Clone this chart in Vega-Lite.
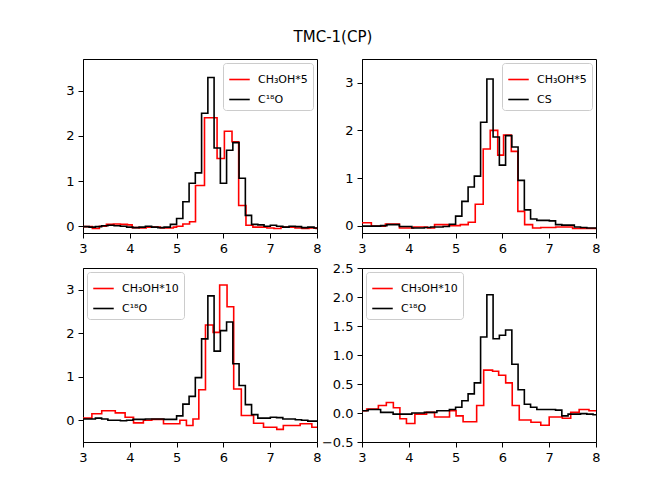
{
  "$schema": "https://vega.github.io/schema/vega-lite/v6.json",
  "background": "white",
  "padding": {"left": 65, "top": 29, "right": 5, "bottom": 5},
  "title": {"text": "TMC-1(CP)", "fontSize": 15, "fontWeight": "normal", "font": "DejaVu Sans", "color": "black", "anchor": "middle", "offset": 14},
  "config": {
    "font": "DejaVu Sans",
    "view": {"stroke": "black", "strokeWidth": 1},
    "axis": {"grid": false, "domainColor": "black", "tickColor": "black", "labelColor": "black", "labelFontSize": 13, "labelFont": "DejaVu Sans", "tickSize": 5, "labelPadding": 4, "labelFlush": false, "labelOverlap": false, "title": null},
    "legend": {"offset": 4, "padding": 5, "strokeColor": "#cccccc", "fillColor": "rgba(255,255,255,0.8)", "cornerRadius": 3, "labelFontSize": 11, "labelFont": "DejaVu Sans", "labelColor": "black", "symbolType": "stroke", "symbolSize": 420, "symbolStrokeWidth": 1.6, "rowPadding": 3, "labelOffset": 7}
  },
  "datasets": {
    "p1": [
      {"v": 2.90, "T": -0.01, "s": "CH₃OH*5"}, {"v": 3.20, "T": -0.05, "s": "CH₃OH*5"}, {"v": 3.35, "T": 0.0, "s": "CH₃OH*5"}, {"v": 3.50, "T": 0.04, "s": "CH₃OH*5"}, {"v": 3.65, "T": 0.05, "s": "CH₃OH*5"}, {"v": 3.80, "T": 0.04, "s": "CH₃OH*5"}, {"v": 3.95, "T": 0.03, "s": "CH₃OH*5"}, {"v": 4.05, "T": -0.03, "s": "CH₃OH*5"}, {"v": 4.20, "T": -0.04, "s": "CH₃OH*5"}, {"v": 4.35, "T": -0.02, "s": "CH₃OH*5"}, {"v": 4.50, "T": -0.02, "s": "CH₃OH*5"}, {"v": 4.65, "T": -0.04, "s": "CH₃OH*5"}, {"v": 4.80, "T": -0.04, "s": "CH₃OH*5"}, {"v": 4.93, "T": -0.02, "s": "CH₃OH*5"}, {"v": 5.00, "T": 0.0, "s": "CH₃OH*5"}, {"v": 5.134, "T": 0.05, "s": "CH₃OH*5"}, {"v": 5.277, "T": 0.10, "s": "CH₃OH*5"}, {"v": 5.404, "T": 0.90, "s": "CH₃OH*5"}, {"v": 5.596, "T": 2.40, "s": "CH₃OH*5"}, {"v": 5.865, "T": 1.50, "s": "CH₃OH*5"}, {"v": 6.021, "T": 2.10, "s": "CH₃OH*5"}, {"v": 6.184, "T": 1.87, "s": "CH₃OH*5"}, {"v": 6.326, "T": 0.46, "s": "CH₃OH*5"}, {"v": 6.482, "T": 0.02, "s": "CH₃OH*5"}, {"v": 6.63, "T": -0.02, "s": "CH₃OH*5"}, {"v": 6.78, "T": -0.02, "s": "CH₃OH*5"}, {"v": 6.93, "T": -0.04, "s": "CH₃OH*5"}, {"v": 7.08, "T": -0.05, "s": "CH₃OH*5"}, {"v": 7.23, "T": -0.02, "s": "CH₃OH*5"}, {"v": 7.38, "T": -0.02, "s": "CH₃OH*5"}, {"v": 7.53, "T": -0.04, "s": "CH₃OH*5"}, {"v": 7.68, "T": -0.05, "s": "CH₃OH*5"}, {"v": 7.83, "T": -0.04, "s": "CH₃OH*5"}, {"v": 7.98, "T": -0.05, "s": "CH₃OH*5"}, {"v": 8.10, "T": -0.05, "s": "CH₃OH*5"},
      {"v": 2.864, "T": 0.0, "s": "C¹⁸O"}, {"v": 2.998, "T": -0.01, "s": "C¹⁸O"}, {"v": 3.131, "T": -0.02, "s": "C¹⁸O"}, {"v": 3.265, "T": -0.01, "s": "C¹⁸O"}, {"v": 3.398, "T": 0.01, "s": "C¹⁸O"}, {"v": 3.532, "T": 0.02, "s": "C¹⁸O"}, {"v": 3.665, "T": 0.01, "s": "C¹⁸O"}, {"v": 3.799, "T": 0.0, "s": "C¹⁸O"}, {"v": 3.932, "T": -0.02, "s": "C¹⁸O"}, {"v": 4.066, "T": -0.03, "s": "C¹⁸O"}, {"v": 4.199, "T": -0.02, "s": "C¹⁸O"}, {"v": 4.333, "T": 0.0, "s": "C¹⁸O"}, {"v": 4.466, "T": -0.02, "s": "C¹⁸O"}, {"v": 4.6, "T": -0.03, "s": "C¹⁸O"}, {"v": 4.733, "T": -0.02, "s": "C¹⁸O"}, {"v": 4.867, "T": 0.04, "s": "C¹⁸O"}, {"v": 5.0, "T": 0.17, "s": "C¹⁸O"}, {"v": 5.134, "T": 0.54, "s": "C¹⁸O"}, {"v": 5.267, "T": 0.95, "s": "C¹⁸O"}, {"v": 5.4, "T": 1.18, "s": "C¹⁸O"}, {"v": 5.534, "T": 2.5, "s": "C¹⁸O"}, {"v": 5.668, "T": 3.29, "s": "C¹⁸O"}, {"v": 5.801, "T": 1.73, "s": "C¹⁸O"}, {"v": 5.935, "T": 0.95, "s": "C¹⁸O"}, {"v": 6.068, "T": 1.68, "s": "C¹⁸O"}, {"v": 6.202, "T": 1.85, "s": "C¹⁸O"}, {"v": 6.335, "T": 1.06, "s": "C¹⁸O"}, {"v": 6.469, "T": 0.24, "s": "C¹⁸O"}, {"v": 6.602, "T": 0.04, "s": "C¹⁸O"}, {"v": 6.736, "T": 0.03, "s": "C¹⁸O"}, {"v": 6.869, "T": 0.0, "s": "C¹⁸O"}, {"v": 7.003, "T": 0.02, "s": "C¹⁸O"}, {"v": 7.136, "T": 0.0, "s": "C¹⁸O"}, {"v": 7.27, "T": -0.02, "s": "C¹⁸O"}, {"v": 7.403, "T": 0.0, "s": "C¹⁸O"}, {"v": 7.537, "T": -0.01, "s": "C¹⁸O"}, {"v": 7.67, "T": -0.03, "s": "C¹⁸O"}, {"v": 7.804, "T": -0.02, "s": "C¹⁸O"}, {"v": 7.937, "T": -0.04, "s": "C¹⁸O"}, {"v": 8.071, "T": -0.03, "s": "C¹⁸O"}
    ],
    "p2": [
      {"v": 2.90, "T": 0.06, "s": "CH₃OH*5"}, {"v": 3.20, "T": -0.01, "s": "CH₃OH*5"}, {"v": 3.50, "T": 0.035, "s": "CH₃OH*5"}, {"v": 3.80, "T": -0.05, "s": "CH₃OH*5"}, {"v": 4.10, "T": -0.03, "s": "CH₃OH*5"}, {"v": 4.40, "T": -0.05, "s": "CH₃OH*5"}, {"v": 4.55, "T": 0.02, "s": "CH₃OH*5"}, {"v": 4.85, "T": 0.0, "s": "CH₃OH*5"}, {"v": 5.10, "T": 0.02, "s": "CH₃OH*5"}, {"v": 5.27, "T": 0.07, "s": "CH₃OH*5"}, {"v": 5.42, "T": 0.45, "s": "CH₃OH*5"}, {"v": 5.59, "T": 1.61, "s": "CH₃OH*5"}, {"v": 5.74, "T": 2.0, "s": "CH₃OH*5"}, {"v": 5.90, "T": 1.48, "s": "CH₃OH*5"}, {"v": 6.025, "T": 1.9, "s": "CH₃OH*5"}, {"v": 6.19, "T": 1.56, "s": "CH₃OH*5"}, {"v": 6.33, "T": 0.3, "s": "CH₃OH*5"}, {"v": 6.475, "T": 0.02, "s": "CH₃OH*5"}, {"v": 6.645, "T": -0.05, "s": "CH₃OH*5"}, {"v": 6.82, "T": -0.04, "s": "CH₃OH*5"}, {"v": 7.14, "T": -0.03, "s": "CH₃OH*5"}, {"v": 7.50, "T": -0.06, "s": "CH₃OH*5"}, {"v": 8.10, "T": -0.06, "s": "CH₃OH*5"},
      {"v": 2.864, "T": -0.01, "s": "CS"}, {"v": 2.998, "T": -0.01, "s": "CS"}, {"v": 3.131, "T": -0.01, "s": "CS"}, {"v": 3.265, "T": -0.01, "s": "CS"}, {"v": 3.398, "T": 0.0, "s": "CS"}, {"v": 3.532, "T": 0.02, "s": "CS"}, {"v": 3.665, "T": 0.02, "s": "CS"}, {"v": 3.799, "T": -0.02, "s": "CS"}, {"v": 3.932, "T": -0.02, "s": "CS"}, {"v": 4.066, "T": -0.05, "s": "CS"}, {"v": 4.199, "T": -0.05, "s": "CS"}, {"v": 4.333, "T": -0.04, "s": "CS"}, {"v": 4.466, "T": -0.03, "s": "CS"}, {"v": 4.6, "T": -0.03, "s": "CS"}, {"v": 4.733, "T": -0.02, "s": "CS"}, {"v": 4.867, "T": 0.03, "s": "CS"}, {"v": 5.0, "T": 0.2, "s": "CS"}, {"v": 5.134, "T": 0.51, "s": "CS"}, {"v": 5.267, "T": 0.81, "s": "CS"}, {"v": 5.4, "T": 1.04, "s": "CS"}, {"v": 5.534, "T": 2.17, "s": "CS"}, {"v": 5.668, "T": 3.08, "s": "CS"}, {"v": 5.801, "T": 1.86, "s": "CS"}, {"v": 5.935, "T": 1.27, "s": "CS"}, {"v": 6.068, "T": 1.89, "s": "CS"}, {"v": 6.202, "T": 1.65, "s": "CS"}, {"v": 6.335, "T": 0.95, "s": "CS"}, {"v": 6.469, "T": 0.33, "s": "CS"}, {"v": 6.602, "T": 0.14, "s": "CS"}, {"v": 6.736, "T": 0.11, "s": "CS"}, {"v": 6.869, "T": 0.11, "s": "CS"}, {"v": 7.003, "T": 0.1, "s": "CS"}, {"v": 7.136, "T": 0.02, "s": "CS"}, {"v": 7.27, "T": 0.01, "s": "CS"}, {"v": 7.403, "T": 0.01, "s": "CS"}, {"v": 7.537, "T": -0.03, "s": "CS"}, {"v": 7.67, "T": -0.04, "s": "CS"}, {"v": 7.804, "T": -0.05, "s": "CS"}, {"v": 7.937, "T": -0.05, "s": "CS"}, {"v": 8.071, "T": -0.05, "s": "CS"}
    ],
    "p3": [
      {"v": 2.90, "T": 0.05, "s": "CH₃OH*10"}, {"v": 3.19, "T": 0.15, "s": "CH₃OH*10"}, {"v": 3.40, "T": 0.22, "s": "CH₃OH*10"}, {"v": 3.69, "T": 0.17, "s": "CH₃OH*10"}, {"v": 3.90, "T": 0.07, "s": "CH₃OH*10"}, {"v": 4.08, "T": -0.06, "s": "CH₃OH*10"}, {"v": 4.29, "T": 0.0, "s": "CH₃OH*10"}, {"v": 4.47, "T": 0.02, "s": "CH₃OH*10"}, {"v": 4.72, "T": -0.08, "s": "CH₃OH*10"}, {"v": 5.07, "T": 0.0, "s": "CH₃OH*10"}, {"v": 5.21, "T": -0.12, "s": "CH₃OH*10"}, {"v": 5.35, "T": 0.03, "s": "CH₃OH*10"}, {"v": 5.475, "T": 0.70, "s": "CH₃OH*10"}, {"v": 5.617, "T": 2.19, "s": "CH₃OH*10"}, {"v": 5.78, "T": 2.02, "s": "CH₃OH*10"}, {"v": 5.92, "T": 3.11, "s": "CH₃OH*10"}, {"v": 6.078, "T": 2.61, "s": "CH₃OH*10"}, {"v": 6.22, "T": 0.72, "s": "CH₃OH*10"}, {"v": 6.383, "T": 0.11, "s": "CH₃OH*10"}, {"v": 6.645, "T": -0.07, "s": "CH₃OH*10"}, {"v": 6.857, "T": -0.16, "s": "CH₃OH*10"}, {"v": 7.14, "T": -0.21, "s": "CH₃OH*10"}, {"v": 7.28, "T": -0.12, "s": "CH₃OH*10"}, {"v": 7.64, "T": -0.08, "s": "CH₃OH*10"}, {"v": 7.89, "T": -0.16, "s": "CH₃OH*10"}, {"v": 8.10, "T": -0.16, "s": "CH₃OH*10"},
      {"v": 2.864, "T": 0.03, "s": "C¹⁸O"}, {"v": 2.998, "T": 0.03, "s": "C¹⁸O"}, {"v": 3.131, "T": 0.03, "s": "C¹⁸O"}, {"v": 3.265, "T": 0.05, "s": "C¹⁸O"}, {"v": 3.398, "T": 0.03, "s": "C¹⁸O"}, {"v": 3.532, "T": 0.0, "s": "C¹⁸O"}, {"v": 3.665, "T": 0.0, "s": "C¹⁸O"}, {"v": 3.799, "T": -0.01, "s": "C¹⁸O"}, {"v": 3.932, "T": 0.0, "s": "C¹⁸O"}, {"v": 4.066, "T": 0.02, "s": "C¹⁸O"}, {"v": 4.199, "T": 0.02, "s": "C¹⁸O"}, {"v": 4.333, "T": 0.03, "s": "C¹⁸O"}, {"v": 4.466, "T": 0.03, "s": "C¹⁸O"}, {"v": 4.6, "T": 0.03, "s": "C¹⁸O"}, {"v": 4.733, "T": 0.02, "s": "C¹⁸O"}, {"v": 4.867, "T": 0.02, "s": "C¹⁸O"}, {"v": 5.0, "T": 0.1, "s": "C¹⁸O"}, {"v": 5.134, "T": 0.37, "s": "C¹⁸O"}, {"v": 5.267, "T": 0.55, "s": "C¹⁸O"}, {"v": 5.4, "T": 0.98, "s": "C¹⁸O"}, {"v": 5.534, "T": 1.87, "s": "C¹⁸O"}, {"v": 5.668, "T": 2.86, "s": "C¹⁸O"}, {"v": 5.801, "T": 1.59, "s": "C¹⁸O"}, {"v": 5.935, "T": 2.06, "s": "C¹⁸O"}, {"v": 6.068, "T": 2.26, "s": "C¹⁸O"}, {"v": 6.202, "T": 1.3, "s": "C¹⁸O"}, {"v": 6.335, "T": 0.8, "s": "C¹⁸O"}, {"v": 6.469, "T": 0.36, "s": "C¹⁸O"}, {"v": 6.602, "T": 0.13, "s": "C¹⁸O"}, {"v": 6.736, "T": 0.05, "s": "C¹⁸O"}, {"v": 6.869, "T": 0.05, "s": "C¹⁸O"}, {"v": 7.003, "T": 0.07, "s": "C¹⁸O"}, {"v": 7.136, "T": 0.06, "s": "C¹⁸O"}, {"v": 7.27, "T": 0.03, "s": "C¹⁸O"}, {"v": 7.403, "T": 0.03, "s": "C¹⁸O"}, {"v": 7.537, "T": 0.01, "s": "C¹⁸O"}, {"v": 7.67, "T": 0.0, "s": "C¹⁸O"}, {"v": 7.804, "T": -0.02, "s": "C¹⁸O"}, {"v": 7.937, "T": -0.02, "s": "C¹⁸O"}, {"v": 8.071, "T": -0.02, "s": "C¹⁸O"}
    ],
    "p4": [
      {"v": 2.90, "T": 0.04, "s": "CH₃OH*10"}, {"v": 3.10, "T": 0.07, "s": "CH₃OH*10"}, {"v": 3.35, "T": 0.13, "s": "CH₃OH*10"}, {"v": 3.52, "T": 0.18, "s": "CH₃OH*10"}, {"v": 3.67, "T": 0.09, "s": "CH₃OH*10"}, {"v": 3.81, "T": -0.1, "s": "CH₃OH*10"}, {"v": 3.95, "T": -0.18, "s": "CH₃OH*10"}, {"v": 4.13, "T": -0.02, "s": "CH₃OH*10"}, {"v": 4.38, "T": 0.01, "s": "CH₃OH*10"}, {"v": 4.55, "T": -0.07, "s": "CH₃OH*10"}, {"v": 4.87, "T": 0.04, "s": "CH₃OH*10"}, {"v": 5.01, "T": -0.05, "s": "CH₃OH*10"}, {"v": 5.16, "T": -0.15, "s": "CH₃OH*10"}, {"v": 5.45, "T": 0.13, "s": "CH₃OH*10"}, {"v": 5.60, "T": 0.74, "s": "CH₃OH*10"}, {"v": 5.79, "T": 0.72, "s": "CH₃OH*10"}, {"v": 5.92, "T": 0.65, "s": "CH₃OH*10"}, {"v": 6.07, "T": 0.52, "s": "CH₃OH*10"}, {"v": 6.21, "T": 0.13, "s": "CH₃OH*10"}, {"v": 6.36, "T": -0.12, "s": "CH₃OH*10"}, {"v": 6.61, "T": -0.16, "s": "CH₃OH*10"}, {"v": 6.82, "T": -0.21, "s": "CH₃OH*10"}, {"v": 7.0, "T": -0.07, "s": "CH₃OH*10"}, {"v": 7.28, "T": -0.09, "s": "CH₃OH*10"}, {"v": 7.46, "T": 0.01, "s": "CH₃OH*10"}, {"v": 7.64, "T": 0.06, "s": "CH₃OH*10"}, {"v": 7.85, "T": 0.04, "s": "CH₃OH*10"}, {"v": 8.10, "T": 0.04, "s": "CH₃OH*10"},
      {"v": 2.864, "T": 0.04, "s": "C¹⁸O"}, {"v": 2.998, "T": 0.04, "s": "C¹⁸O"}, {"v": 3.131, "T": 0.06, "s": "C¹⁸O"}, {"v": 3.265, "T": 0.06, "s": "C¹⁸O"}, {"v": 3.398, "T": 0.01, "s": "C¹⁸O"}, {"v": 3.532, "T": 0.01, "s": "C¹⁸O"}, {"v": 3.665, "T": -0.02, "s": "C¹⁸O"}, {"v": 3.799, "T": -0.02, "s": "C¹⁸O"}, {"v": 3.932, "T": -0.02, "s": "C¹⁸O"}, {"v": 4.066, "T": 0.0, "s": "C¹⁸O"}, {"v": 4.199, "T": 0.0, "s": "C¹⁸O"}, {"v": 4.333, "T": 0.01, "s": "C¹⁸O"}, {"v": 4.466, "T": 0.01, "s": "C¹⁸O"}, {"v": 4.6, "T": 0.04, "s": "C¹⁸O"}, {"v": 4.733, "T": 0.04, "s": "C¹⁸O"}, {"v": 4.867, "T": 0.06, "s": "C¹⁸O"}, {"v": 5.0, "T": 0.1, "s": "C¹⁸O"}, {"v": 5.134, "T": 0.21, "s": "C¹⁸O"}, {"v": 5.267, "T": 0.33, "s": "C¹⁸O"}, {"v": 5.4, "T": 0.52, "s": "C¹⁸O"}, {"v": 5.534, "T": 1.31, "s": "C¹⁸O"}, {"v": 5.668, "T": 2.04, "s": "C¹⁸O"}, {"v": 5.801, "T": 1.28, "s": "C¹⁸O"}, {"v": 5.935, "T": 1.34, "s": "C¹⁸O"}, {"v": 6.068, "T": 1.43, "s": "C¹⁸O"}, {"v": 6.202, "T": 0.84, "s": "C¹⁸O"}, {"v": 6.335, "T": 0.4, "s": "C¹⁸O"}, {"v": 6.469, "T": 0.15, "s": "C¹⁸O"}, {"v": 6.602, "T": 0.1, "s": "C¹⁸O"}, {"v": 6.736, "T": 0.06, "s": "C¹⁸O"}, {"v": 6.869, "T": 0.06, "s": "C¹⁸O"}, {"v": 7.003, "T": 0.06, "s": "C¹⁸O"}, {"v": 7.136, "T": 0.05, "s": "C¹⁸O"}, {"v": 7.27, "T": -0.05, "s": "C¹⁸O"}, {"v": 7.403, "T": -0.02, "s": "C¹⁸O"}, {"v": 7.537, "T": -0.02, "s": "C¹⁸O"}, {"v": 7.67, "T": -0.01, "s": "C¹⁸O"}, {"v": 7.804, "T": -0.02, "s": "C¹⁸O"}, {"v": 7.937, "T": -0.03, "s": "C¹⁸O"}, {"v": 8.071, "T": -0.03, "s": "C¹⁸O"}
    ]
  },
  "columns": 2,
  "spacing": {"row": 35, "column": 45},
  "bounds": "flush",
  "resolve": {"scale": {"x": "independent", "y": "independent", "color": "independent"}},
  "concat": [
    {
      "width": 234, "height": 174,
      "data": {"name": "p1"},
      "mark": {"type": "line", "interpolate": "step-after", "strokeWidth": 1.6, "clip": true},
      "encoding": {
        "x": {"field": "v", "type": "quantitative", "scale": {"domain": [3, 8], "nice": false, "zero": false}, "axis": {"values": [3, 4, 5, 6, 7, 8]}},
        "y": {"field": "T", "type": "quantitative", "scale": {"domain": [-0.15, 3.7], "nice": false, "zero": false}, "axis": {"values": [0, 1, 2, 3]}},
        "color": {"field": "s", "type": "nominal", "scale": {"domain": ["CH₃OH*5", "C¹⁸O"], "range": ["#ff0000", "#000000"]}, "legend": {"title": null, "orient": "top-right"}}
      }
    },
    {
      "width": 234, "height": 174,
      "data": {"name": "p2"},
      "mark": {"type": "line", "interpolate": "step-after", "strokeWidth": 1.6, "clip": true},
      "encoding": {
        "x": {"field": "v", "type": "quantitative", "scale": {"domain": [3, 8], "nice": false, "zero": false}, "axis": {"values": [3, 4, 5, 6, 7, 8]}},
        "y": {"field": "T", "type": "quantitative", "scale": {"domain": [-0.155, 3.5], "nice": false, "zero": false}, "axis": {"values": [0, 1, 2, 3]}},
        "color": {"field": "s", "type": "nominal", "scale": {"domain": ["CH₃OH*5", "CS"], "range": ["#ff0000", "#000000"]}, "legend": {"title": null, "orient": "top-right"}}
      }
    },
    {
      "width": 234, "height": 174,
      "data": {"name": "p3"},
      "mark": {"type": "line", "interpolate": "step-after", "strokeWidth": 1.6, "clip": true},
      "encoding": {
        "x": {"field": "v", "type": "quantitative", "scale": {"domain": [3, 8], "nice": false, "zero": false}, "axis": {"values": [3, 4, 5, 6, 7, 8]}},
        "y": {"field": "T", "type": "quantitative", "scale": {"domain": [-0.5, 3.5], "nice": false, "zero": false}, "axis": {"values": [0, 1, 2, 3]}},
        "color": {"field": "s", "type": "nominal", "scale": {"domain": ["CH₃OH*10", "C¹⁸O"], "range": ["#ff0000", "#000000"]}, "legend": {"title": null, "orient": "top-left"}}
      }
    },
    {
      "width": 234, "height": 174,
      "data": {"name": "p4"},
      "mark": {"type": "line", "interpolate": "step-after", "strokeWidth": 1.6, "clip": true},
      "encoding": {
        "x": {"field": "v", "type": "quantitative", "scale": {"domain": [3, 8], "nice": false, "zero": false}, "axis": {"values": [3, 4, 5, 6, 7, 8]}},
        "y": {"field": "T", "type": "quantitative", "scale": {"domain": [-0.5, 2.5], "nice": false, "zero": false}, "axis": {"values": [-0.5, 0, 0.5, 1, 1.5, 2, 2.5], "format": ".1f"}},
        "color": {"field": "s", "type": "nominal", "scale": {"domain": ["CH₃OH*10", "C¹⁸O"], "range": ["#ff0000", "#000000"]}, "legend": {"title": null, "orient": "top-left"}}
      }
    }
  ]
}
